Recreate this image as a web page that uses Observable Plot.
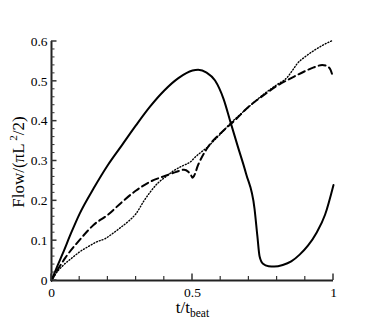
<!DOCTYPE html>
<html><head><meta charset="utf-8">
<script src="https://cdn.jsdelivr.net/npm/d3@7"></script>
<script src="https://cdn.jsdelivr.net/npm/@observablehq/plot@0.6"></script>
<style>html,body{margin:0;padding:0;background:#fff}svg{display:block}</style>
</head><body><div id="chart"></div>
<script>
// Solid curve
const solidT    = [0, 0.02, 0.04, 0.07, 0.1, 0.15, 0.2, 0.25, 0.3, 0.35, 0.4, 0.45, 0.5, 0.52, 0.55, 0.58, 0.61, 0.635, 0.66, 0.69, 0.72, 0.73, 0.738, 0.75, 0.77, 0.79, 0.82, 0.85, 0.88, 0.91, 0.94, 0.97, 1.0];
const solidFlow = [0, 0.035, 0.068, 0.12, 0.168, 0.232, 0.29, 0.34, 0.39, 0.437, 0.477, 0.508, 0.527, 0.529, 0.522, 0.502, 0.456, 0.397, 0.338, 0.268, 0.18, 0.112, 0.06, 0.042, 0.036, 0.035, 0.039, 0.048, 0.065, 0.088, 0.12, 0.165, 0.24];
// Dashed curve
const dashedT    = [0, 0.02, 0.05, 0.1, 0.15, 0.2, 0.25, 0.3, 0.35, 0.4, 0.44, 0.47, 0.485, 0.495, 0.5, 0.505, 0.52, 0.55, 0.6, 0.65, 0.7, 0.75, 0.8, 0.85, 0.9, 0.93, 0.96, 0.98, 0.99, 0.995];
const dashedFlow = [0, 0.025, 0.058, 0.102, 0.14, 0.165, 0.197, 0.226, 0.248, 0.262, 0.272, 0.278, 0.273, 0.264, 0.258, 0.262, 0.29, 0.33, 0.37, 0.402, 0.437, 0.464, 0.489, 0.508, 0.526, 0.535, 0.541, 0.537, 0.528, 0.518];
// Dotted curve
const dottedT    = [0, 0.015, 0.04, 0.075, 0.1, 0.13, 0.16, 0.19, 0.215, 0.245, 0.275, 0.3, 0.327, 0.35, 0.375, 0.41, 0.434, 0.465, 0.493, 0.51, 0.53, 0.552, 0.58, 0.605, 0.635, 0.658, 0.7, 0.753, 0.8, 0.836, 0.855, 0.871, 0.9, 0.93, 0.96, 0.995];
const dottedFlow = [0, 0.017, 0.037, 0.058, 0.072, 0.085, 0.097, 0.105, 0.117, 0.133, 0.15, 0.168, 0.199, 0.222, 0.243, 0.263, 0.276, 0.288, 0.298, 0.31, 0.322, 0.334, 0.354, 0.372, 0.395, 0.41, 0.436, 0.468, 0.492, 0.51, 0.528, 0.544, 0.562, 0.577, 0.59, 0.602];

const xMajorTicks = [0, 0.5, 1];
const xMinorTicks = [0.1, 0.2, 0.3, 0.4, 0.6, 0.7, 0.8, 0.9];
const yMajorTicks = [0, 0.1, 0.2, 0.3, 0.4, 0.5, 0.6];
const yMinorTicks = [0.02, 0.04, 0.06, 0.08, 0.12, 0.14, 0.16, 0.18, 0.22, 0.24, 0.26, 0.28, 0.32, 0.34, 0.36, 0.38, 0.42, 0.44, 0.46, 0.48, 0.52, 0.54, 0.56, 0.58];

const toRows = (T, F) => T.map((t, i) => ({t, flow: F[i]}));
const solid = toRows(solidT, solidFlow);
const dashed = toRows(dashedT, dashedFlow);
const dotted = toRows(dottedT, dottedFlow);

const fmt = d => d === 0 ? "0" : String(d);
const fam = "Liberation Serif";

const chart = Plot.plot({
  width: 382, height: 319,
  marginLeft: 51, marginRight: 49, marginTop: 41, marginBottom: 39,
  x: {domain: [0, 1]},
  y: {domain: [0, 0.6]},
  style: {fontFamily: fam, fontSize: "13.5px", background: "white", color: "black"},
  marks: [
    Plot.axisX({ticks: xMajorTicks, tickSize: 0, tickPadding: 7, tickFormat: fmt, label: null}),
    Plot.axisY({ticks: yMajorTicks, tickSize: 0, tickPadding: 4, tickFormat: fmt, label: null}),
    Plot.ruleX([0], {stroke: "#222", strokeWidth: 2}),
    Plot.ruleY([0], {stroke: "#222", strokeWidth: 2}),
    Plot.line(solid, {x: "t", y: "flow", stroke: "black", strokeWidth: 2, curve: "monotone-x"}),
    Plot.line(dashed, {x: "t", y: "flow", stroke: "black", strokeWidth: 2, strokeDasharray: "7,4", curve: "monotone-x"}),
    Plot.line(dotted, {x: "t", y: "flow", stroke: "black", strokeWidth: 1.4, strokeDasharray: "1,2", curve: "monotone-x"})
  ]
});

const svg = d3.select(chart);
// inward tick marks, positioned through the chart's own scales
const xs = chart.scale("x"), ys = chart.scale("y");
const tickG = svg.append("g").attr("stroke", "#333");
const addX = (vals, len, w) => vals.forEach(v => tickG.append("line").attr("stroke-width", w)
  .attr("x1", xs.apply(v)).attr("x2", xs.apply(v))
  .attr("y1", ys.apply(0)).attr("y2", ys.apply(0) - len));
const addY = (vals, len, w) => vals.forEach(v => tickG.append("line").attr("stroke-width", w)
  .attr("x1", xs.apply(0)).attr("x2", xs.apply(0) + len)
  .attr("y1", ys.apply(v)).attr("y2", ys.apply(v)));
addX(xMinorTicks, 4, 1.2); addX(xMajorTicks, 6.5, 1.5);
addY(yMinorTicks, 3.5, 1); addY(yMajorTicks, 5.5, 1.5);

const yl = svg.append("text")
  .attr("transform", "translate(24,162) rotate(-90)")
  .attr("text-anchor", "middle")
  .attr("font-family", fam).attr("font-size", 17).attr("fill", "black");
yl.append("tspan").text("Flow/(πL");
yl.append("tspan").attr("dy", -7).attr("font-size", 11).text(" 2");
yl.append("tspan").attr("dy", 7).text("/2)");

const xl = svg.append("text")
  .attr("x", 192.5).attr("y", 313)
  .attr("text-anchor", "middle")
  .attr("font-family", fam).attr("font-size", 17).attr("fill", "black");
xl.append("tspan").text("t/t");
xl.append("tspan").attr("dy", 4).attr("font-size", 11.5).text("beat");

document.getElementById("chart").appendChild(chart);
</script>
</body></html>
